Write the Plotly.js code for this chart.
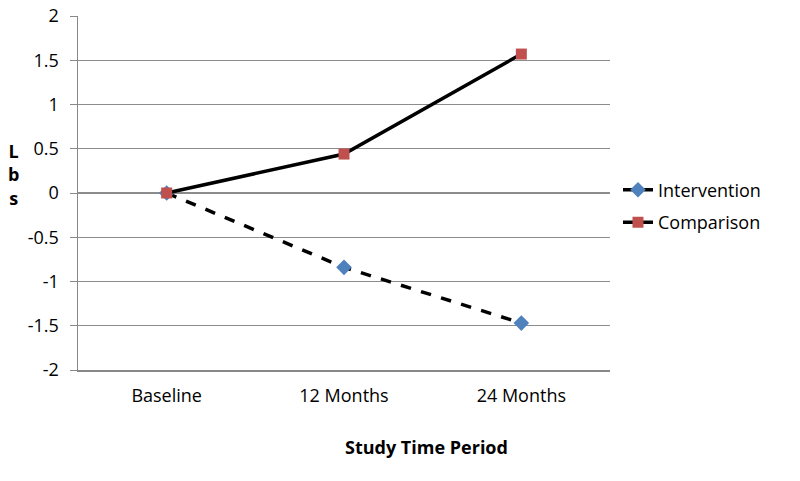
<!DOCTYPE html>
<html>
<head>
<meta charset="utf-8">
<script src="https://cdn.plot.ly/plotly-3.0.1.min.js"></script>
<style>html,body{margin:0;padding:0;background:#fff}#chart{width:800px;height:481px}</style>
</head>
<body>
<div id="chart"></div>
<script>
const categories = ["Baseline", "12 Months", "24 Months"];
const intervention = [0, -0.84, -1.47];
const comparison = [0, 0.44, 1.57];
const yTickVals = [2, 1.5, 1, 0.5, 0, -0.5, -1, -1.5, -2];
const yTickText = ["2", "1.5", "1", "0.5", "0", "-0.5", "-1", "-1.5", "-2"];

const font = "Open Sans, Liberation Sans, sans-serif";
const fs = 18;

const traces = [
  {
    x: categories, y: intervention, name: "Intervention", type: "scatter", mode: "lines+markers",
    legendgroup: "a",
    line: {color: "#000000", width: 3.5, dash: "dash"},
    marker: {symbol: "diamond", size: 12, color: "#4F81BD"}
  },
  {
    x: categories, y: comparison, name: "Comparison", type: "scatter", mode: "lines+markers",
    legendgroup: "b",
    line: {color: "#000000", width: 3.5},
    marker: {symbol: "square", size: 11, color: "#C0504D"}
  }
];

const layout = {
  width: 800, height: 481,
  margin: {l: 78, r: 190, t: 16, b: 111},
  paper_bgcolor: "#fff", plot_bgcolor: "#fff",
  font: {family: font, size: fs, color: "#000"},
  showlegend: true,
  legend: {x: 1.015, y: 0.463, xanchor: "left", yanchor: "middle", traceorder: "grouped", tracegroupgap: 6,
           font: {family: font, size: fs, color: "#000"}, itemwidth: 30},
  xaxis: {
    type: "category", range: [-0.5, 2.5], showgrid: false, zeroline: false,
    showline: true, linecolor: "#888", linewidth: 1.5, ticks: "", tickfont: {family: font, size: fs},
    ticklabelstandoff: 9, fixedrange: true
  },
  yaxis: {
    range: [-2, 2], tickvals: yTickVals, ticktext: yTickText, showgrid: true, gridcolor: "#8c8c8c", gridwidth: 1.2,
    zeroline: false, showline: true, linecolor: "#888", linewidth: 1.5, ticks: "outside", ticklen: 7, tickcolor: "#888",
    tickfont: {family: font, size: fs}, ticklabelstandoff: 7, fixedrange: true
  },
  annotations: [
    {text: "<b>L<br>b<br>s</b>", xref: "paper", yref: "paper", x: -0.122, y: 0.551, xanchor: "center", yanchor: "middle",
     showarrow: false, align: "center", font: {family: font, size: fs, color: "#000"}},
    {text: "<b>Study Time Period</b>", xref: "paper", yref: "paper", x: 0.656, y: -0.2175, xanchor: "center", yanchor: "middle",
     showarrow: false, font: {family: font, size: fs, color: "#000"}}
  ]
};

Plotly.newPlot("chart", traces, layout, {displayModeBar: false, staticPlot: true});
</script>
</body>
</html>
